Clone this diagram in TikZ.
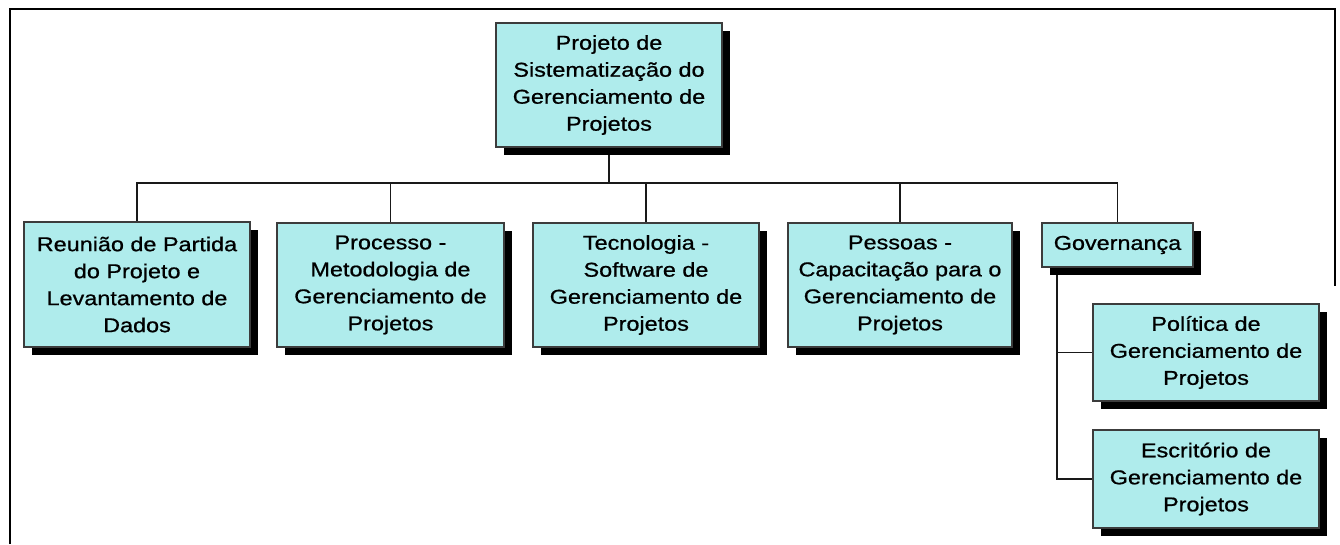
\documentclass[tikz,border=0pt]{standalone}
\usepackage{fontspec}
\setmainfont{Liberation Sans}[FakeStretch=1.17,FakeBold=0.8]
\usetikzlibrary{shadows,backgrounds}
\definecolor{boxfill}{RGB}{175,236,236}
\definecolor{boxline}{RGB}{60,60,60}
\begin{document}
\begin{tikzpicture}[x=1pt,y=-1pt,
  box/.style={draw=boxline, line width=1.2pt, fill=boxfill, align=center, text=black,
    font=\fontsize{20}{27}\selectfont, inner sep=0pt,
    drop shadow={shadow xshift=8pt, shadow yshift=-8pt, fill=black, opacity=1}},
  conn/.style={draw=black!90, line width=1.6pt},
  frame/.style={draw=black, line width=2pt}]
\useasboundingbox (0,0) rectangle (1340,544);
\draw[frame] (10,544) -- (10,9) -- (1335,9) -- (1335,286);

\node[box, minimum width=226pt, minimum height=124pt] (root) at (609,85)
  {Projeto de\\Sistematização do\\Gerenciamento de\\Projetos};
\node[box, minimum width=226pt, minimum height=125pt] (b1) at (137,284.5)
  {Reunião de Partida\\do Projeto e\\Levantamento de\\Dados};
\node[box, minimum width=227pt, minimum height=124pt] (b2) at (390.5,285)
  {Processo -\\Metodologia de\\Gerenciamento de\\Projetos};
\node[box, minimum width=226pt, minimum height=124pt] (b3) at (646,285)
  {Tecnologia -\\Software de\\Gerenciamento de\\Projetos};
\node[box, minimum width=224pt, minimum height=124pt] (b4) at (900,285)
  {Pessoas -\\Capacitação para o\\Gerenciamento de\\Projetos};
\node[box, minimum width=151pt, minimum height=44pt] (gov) at (1117.5,245)
  {Governança};
\node[box, minimum width=226pt, minimum height=97pt] (pol) at (1206,352.5)
  {Política de\\Gerenciamento de\\Projetos};
\node[box, minimum width=226pt, minimum height=98pt] (esc) at (1206,479)
  {Escritório de\\Gerenciamento de\\Projetos};

\coordinate (bar) at (0,183);
\coordinate (gx) at (1057,0);
\begin{scope}[on background layer]
\draw[conn] (root.south) -- (root.south |- bar);
\draw[conn] (b1.north) -- (b1.north |- bar) -- (gov.north |- bar) -- (gov.north);
\draw[conn] (b2.north) -- (b2.north |- bar);
\draw[conn] (b3.north) -- (b3.north |- bar);
\draw[conn] (b4.north) -- (b4.north |- bar);
\draw[conn] (gov.south -| gx) -- (gx |- esc.west) -- (esc.west);
\draw[conn] (gx |- pol.west) -- (pol.west);
\end{scope}
\end{tikzpicture}
\end{document}
